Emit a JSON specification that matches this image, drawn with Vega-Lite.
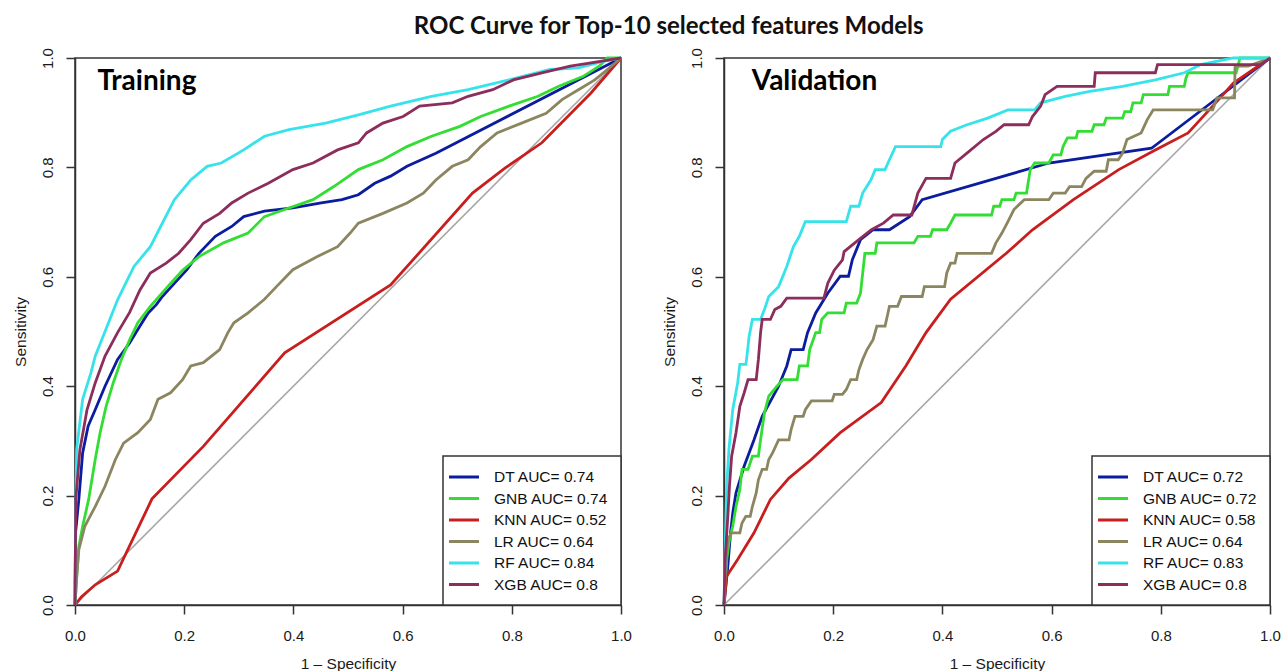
{
  "$schema": "https://vega.github.io/schema/vega-lite/v6.json",
  "padding": {"left": 12, "top": 14, "right": 0, "bottom": 0},
  "background": "white",
  "title": {"text": "ROC Curve for Top-10 selected features Models", "font": "Lato", "fontSize": 24, "fontWeight": "bold", "color": "#111111", "anchor": "middle", "offset": 8, "dx": 22},
  "config": {
    "view": {"stroke": "#333333", "strokeWidth": 1.5},
    "axis": {"domainColor": "#333333", "tickColor": "#333333", "domainWidth": 1.5, "tickWidth": 1.5, "tickSize": 9, "labelColor": "#1a1a1a", "titleColor": "#1a1a1a", "labelFont": "Liberation Sans", "titleFont": "Liberation Sans", "labelFontSize": 15, "titleFontSize": 15.5, "titleFontWeight": "normal", "grid": false, "labelFlush": false, "labelOverlap": false},
    "legend": {"strokeWidth": 1.5}
  },
  "datasets": {
    "train": [
      {"m":"DT","x":0,"y":0},{"m":"DT","x":0.001,"y":0.132},{"m":"DT","x":0.007,"y":0.193},{"m":"DT","x":0.014,"y":0.278},{"m":"DT","x":0.024,"y":0.327},{"m":"DT","x":0.037,"y":0.357},{"m":"DT","x":0.055,"y":0.4},{"m":"DT","x":0.078,"y":0.449},{"m":"DT","x":0.1,"y":0.479},{"m":"DT","x":0.119,"y":0.51},{"m":"DT","x":0.134,"y":0.534},{"m":"DT","x":0.149,"y":0.549},{"m":"DT","x":0.16,"y":0.564},{"m":"DT","x":0.182,"y":0.588},{"m":"DT","x":0.205,"y":0.613},{"m":"DT","x":0.227,"y":0.643},{"m":"DT","x":0.257,"y":0.674},{"m":"DT","x":0.287,"y":0.692},{"m":"DT","x":0.309,"y":0.71},{"m":"DT","x":0.347,"y":0.72},{"m":"DT","x":0.399,"y":0.726},{"m":"DT","x":0.451,"y":0.735},{"m":"DT","x":0.489,"y":0.741},{"m":"DT","x":0.519,"y":0.75},{"m":"DT","x":0.549,"y":0.771},{"m":"DT","x":0.578,"y":0.784},{"m":"DT","x":0.608,"y":0.802},{"m":"DT","x":0.661,"y":0.826},{"m":"DT","x":1,"y":1},
      {"m":"GNB","x":0,"y":0},{"m":"GNB","x":0.003,"y":0.05},{"m":"GNB","x":0.007,"y":0.107},{"m":"GNB","x":0.014,"y":0.144},{"m":"GNB","x":0.025,"y":0.193},{"m":"GNB","x":0.037,"y":0.266},{"m":"GNB","x":0.046,"y":0.315},{"m":"GNB","x":0.057,"y":0.363},{"m":"GNB","x":0.07,"y":0.406},{"m":"GNB","x":0.085,"y":0.449},{"m":"GNB","x":0.1,"y":0.485},{"m":"GNB","x":0.115,"y":0.516},{"m":"GNB","x":0.138,"y":0.546},{"m":"GNB","x":0.175,"y":0.588},{"m":"GNB","x":0.197,"y":0.612},{"m":"GNB","x":0.227,"y":0.637},{"m":"GNB","x":0.272,"y":0.662},{"m":"GNB","x":0.317,"y":0.68},{"m":"GNB","x":0.347,"y":0.71},{"m":"GNB","x":0.384,"y":0.723},{"m":"GNB","x":0.436,"y":0.741},{"m":"GNB","x":0.474,"y":0.765},{"m":"GNB","x":0.519,"y":0.796},{"m":"GNB","x":0.564,"y":0.814},{"m":"GNB","x":0.608,"y":0.838},{"m":"GNB","x":0.653,"y":0.857},{"m":"GNB","x":0.705,"y":0.875},{"m":"GNB","x":0.743,"y":0.893},{"m":"GNB","x":0.795,"y":0.912},{"m":"GNB","x":0.848,"y":0.93},{"m":"GNB","x":0.885,"y":0.948},{"m":"GNB","x":0.93,"y":0.966},{"m":"GNB","x":0.96,"y":0.985},{"m":"GNB","x":0.975,"y":1},{"m":"GNB","x":1,"y":1},
      {"m":"KNN","x":0,"y":0},{"m":"KNN","x":0.012,"y":0.015},{"m":"KNN","x":0.037,"y":0.037},{"m":"KNN","x":0.078,"y":0.062},{"m":"KNN","x":0.141,"y":0.194},{"m":"KNN","x":0.235,"y":0.29},{"m":"KNN","x":0.384,"y":0.461},{"m":"KNN","x":0.578,"y":0.585},{"m":"KNN","x":0.728,"y":0.753},{"m":"KNN","x":0.788,"y":0.799},{"m":"KNN","x":0.855,"y":0.845},{"m":"KNN","x":0.945,"y":0.936},{"m":"KNN","x":1,"y":1},
      {"m":"LR","x":0,"y":0},{"m":"LR","x":0.003,"y":0.05},{"m":"LR","x":0.007,"y":0.101},{"m":"LR","x":0.018,"y":0.144},{"m":"LR","x":0.037,"y":0.18},{"m":"LR","x":0.055,"y":0.217},{"m":"LR","x":0.074,"y":0.266},{"m":"LR","x":0.089,"y":0.296},{"m":"LR","x":0.115,"y":0.315},{"m":"LR","x":0.138,"y":0.339},{"m":"LR","x":0.152,"y":0.376},{"m":"LR","x":0.175,"y":0.388},{"m":"LR","x":0.197,"y":0.412},{"m":"LR","x":0.212,"y":0.437},{"m":"LR","x":0.235,"y":0.443},{"m":"LR","x":0.265,"y":0.467},{"m":"LR","x":0.28,"y":0.498},{"m":"LR","x":0.291,"y":0.516},{"m":"LR","x":0.317,"y":0.534},{"m":"LR","x":0.347,"y":0.559},{"m":"LR","x":0.369,"y":0.582},{"m":"LR","x":0.399,"y":0.613},{"m":"LR","x":0.444,"y":0.637},{"m":"LR","x":0.481,"y":0.655},{"m":"LR","x":0.504,"y":0.68},{"m":"LR","x":0.519,"y":0.698},{"m":"LR","x":0.564,"y":0.716},{"m":"LR","x":0.608,"y":0.735},{"m":"LR","x":0.638,"y":0.753},{"m":"LR","x":0.661,"y":0.777},{"m":"LR","x":0.691,"y":0.802},{"m":"LR","x":0.72,"y":0.814},{"m":"LR","x":0.743,"y":0.838},{"m":"LR","x":0.773,"y":0.863},{"m":"LR","x":0.818,"y":0.881},{"m":"LR","x":0.863,"y":0.899},{"m":"LR","x":0.892,"y":0.924},{"m":"LR","x":0.922,"y":0.942},{"m":"LR","x":0.952,"y":0.96},{"m":"LR","x":0.975,"y":0.979},{"m":"LR","x":1,"y":1},
      {"m":"RF","x":0,"y":0},{"m":"RF","x":0.001,"y":0.15},{"m":"RF","x":0.003,"y":0.284},{"m":"RF","x":0.014,"y":0.376},{"m":"RF","x":0.029,"y":0.424},{"m":"RF","x":0.037,"y":0.455},{"m":"RF","x":0.055,"y":0.5},{"m":"RF","x":0.078,"y":0.558},{"m":"RF","x":0.108,"y":0.619},{"m":"RF","x":0.138,"y":0.655},{"m":"RF","x":0.16,"y":0.698},{"m":"RF","x":0.182,"y":0.741},{"m":"RF","x":0.212,"y":0.777},{"m":"RF","x":0.242,"y":0.802},{"m":"RF","x":0.268,"y":0.808},{"m":"RF","x":0.309,"y":0.832},{"m":"RF","x":0.347,"y":0.857},{"m":"RF","x":0.392,"y":0.869},{"m":"RF","x":0.459,"y":0.881},{"m":"RF","x":0.519,"y":0.896},{"m":"RF","x":0.578,"y":0.912},{"m":"RF","x":0.653,"y":0.93},{"m":"RF","x":0.72,"y":0.942},{"m":"RF","x":0.795,"y":0.96},{"m":"RF","x":0.87,"y":0.979},{"m":"RF","x":0.922,"y":0.982},{"m":"RF","x":0.967,"y":0.994},{"m":"RF","x":1,"y":1},
      {"m":"XGB","x":0,"y":0},{"m":"XGB","x":0.0015,"y":0.194},{"m":"XGB","x":0.009,"y":0.284},{"m":"XGB","x":0.022,"y":0.357},{"m":"XGB","x":0.037,"y":0.406},{"m":"XGB","x":0.055,"y":0.455},{"m":"XGB","x":0.078,"y":0.498},{"m":"XGB","x":0.1,"y":0.535},{"m":"XGB","x":0.119,"y":0.576},{"m":"XGB","x":0.138,"y":0.607},{"m":"XGB","x":0.167,"y":0.625},{"m":"XGB","x":0.19,"y":0.643},{"m":"XGB","x":0.212,"y":0.668},{"m":"XGB","x":0.235,"y":0.698},{"m":"XGB","x":0.265,"y":0.716},{"m":"XGB","x":0.287,"y":0.735},{"m":"XGB","x":0.317,"y":0.753},{"m":"XGB","x":0.354,"y":0.771},{"m":"XGB","x":0.399,"y":0.796},{"m":"XGB","x":0.436,"y":0.808},{"m":"XGB","x":0.481,"y":0.832},{"m":"XGB","x":0.519,"y":0.845},{"m":"XGB","x":0.534,"y":0.863},{"m":"XGB","x":0.564,"y":0.881},{"m":"XGB","x":0.601,"y":0.893},{"m":"XGB","x":0.631,"y":0.912},{"m":"XGB","x":0.691,"y":0.918},{"m":"XGB","x":0.72,"y":0.93},{"m":"XGB","x":0.765,"y":0.942},{"m":"XGB","x":0.803,"y":0.96},{"m":"XGB","x":0.855,"y":0.973},{"m":"XGB","x":0.907,"y":0.985},{"m":"XGB","x":0.945,"y":0.991},{"m":"XGB","x":1,"y":1}
    ],
    "valid": [
      {"m":"DT","x":0,"y":0},{"m":"DT","x":0.007,"y":0.071},{"m":"DT","x":0.012,"y":0.132},{"m":"DT","x":0.016,"y":0.168},{"m":"DT","x":0.022,"y":0.205},{"m":"DT","x":0.037,"y":0.254},{"m":"DT","x":0.055,"y":0.302},{"m":"DT","x":0.07,"y":0.345},{"m":"DT","x":0.1,"y":0.4},{"m":"DT","x":0.115,"y":0.437},{"m":"DT","x":0.123,"y":0.467},{"m":"DT","x":0.145,"y":0.467},{"m":"DT","x":0.153,"y":0.498},{"m":"DT","x":0.168,"y":0.534},{"m":"DT","x":0.19,"y":0.57},{"m":"DT","x":0.213,"y":0.601},{"m":"DT","x":0.228,"y":0.601},{"m":"DT","x":0.235,"y":0.631},{"m":"DT","x":0.25,"y":0.668},{"m":"DT","x":0.273,"y":0.686},{"m":"DT","x":0.303,"y":0.686},{"m":"DT","x":0.34,"y":0.71},{"m":"DT","x":0.363,"y":0.741},{"m":"DT","x":0.595,"y":0.808},{"m":"DT","x":0.783,"y":0.835},{"m":"DT","x":1,"y":1},
      {"m":"GNB","x":0,"y":0},{"m":"GNB","x":0.003,"y":0.046},{"m":"GNB","x":0.005,"y":0.083},{"m":"GNB","x":0.01,"y":0.12},{"m":"GNB","x":0.016,"y":0.144},{"m":"GNB","x":0.022,"y":0.18},{"m":"GNB","x":0.029,"y":0.211},{"m":"GNB","x":0.033,"y":0.248},{"m":"GNB","x":0.044,"y":0.248},{"m":"GNB","x":0.052,"y":0.272},{"m":"GNB","x":0.063,"y":0.272},{"m":"GNB","x":0.067,"y":0.302},{"m":"GNB","x":0.074,"y":0.351},{"m":"GNB","x":0.082,"y":0.382},{"m":"GNB","x":0.097,"y":0.4},{"m":"GNB","x":0.108,"y":0.412},{"m":"GNB","x":0.134,"y":0.412},{"m":"GNB","x":0.138,"y":0.437},{"m":"GNB","x":0.153,"y":0.437},{"m":"GNB","x":0.157,"y":0.467},{"m":"GNB","x":0.168,"y":0.498},{"m":"GNB","x":0.175,"y":0.498},{"m":"GNB","x":0.179,"y":0.522},{"m":"GNB","x":0.19,"y":0.534},{"m":"GNB","x":0.22,"y":0.534},{"m":"GNB","x":0.224,"y":0.552},{"m":"GNB","x":0.243,"y":0.552},{"m":"GNB","x":0.25,"y":0.57},{"m":"GNB","x":0.258,"y":0.643},{"m":"GNB","x":0.277,"y":0.643},{"m":"GNB","x":0.28,"y":0.662},{"m":"GNB","x":0.348,"y":0.662},{"m":"GNB","x":0.355,"y":0.674},{"m":"GNB","x":0.378,"y":0.674},{"m":"GNB","x":0.382,"y":0.686},{"m":"GNB","x":0.408,"y":0.686},{"m":"GNB","x":0.415,"y":0.698},{"m":"GNB","x":0.423,"y":0.713},{"m":"GNB","x":0.49,"y":0.713},{"m":"GNB","x":0.494,"y":0.729},{"m":"GNB","x":0.505,"y":0.729},{"m":"GNB","x":0.509,"y":0.741},{"m":"GNB","x":0.531,"y":0.741},{"m":"GNB","x":0.535,"y":0.753},{"m":"GNB","x":0.554,"y":0.753},{"m":"GNB","x":0.561,"y":0.796},{"m":"GNB","x":0.569,"y":0.808},{"m":"GNB","x":0.595,"y":0.808},{"m":"GNB","x":0.603,"y":0.823},{"m":"GNB","x":0.617,"y":0.823},{"m":"GNB","x":0.621,"y":0.838},{"m":"GNB","x":0.629,"y":0.854},{"m":"GNB","x":0.645,"y":0.854},{"m":"GNB","x":0.648,"y":0.866},{"m":"GNB","x":0.674,"y":0.866},{"m":"GNB","x":0.678,"y":0.878},{"m":"GNB","x":0.696,"y":0.878},{"m":"GNB","x":0.7,"y":0.89},{"m":"GNB","x":0.73,"y":0.89},{"m":"GNB","x":0.734,"y":0.902},{"m":"GNB","x":0.745,"y":0.902},{"m":"GNB","x":0.749,"y":0.918},{"m":"GNB","x":0.764,"y":0.918},{"m":"GNB","x":0.768,"y":0.933},{"m":"GNB","x":0.813,"y":0.933},{"m":"GNB","x":0.816,"y":0.948},{"m":"GNB","x":0.843,"y":0.948},{"m":"GNB","x":0.846,"y":0.963},{"m":"GNB","x":0.85,"y":0.973},{"m":"GNB","x":0.938,"y":0.973},{"m":"GNB","x":0.945,"y":1},{"m":"GNB","x":1,"y":1},
      {"m":"KNN","x":0,"y":0},{"m":"KNN","x":0.0045,"y":0.052},{"m":"KNN","x":0.025,"y":0.083},{"m":"KNN","x":0.055,"y":0.132},{"m":"KNN","x":0.085,"y":0.193},{"m":"KNN","x":0.119,"y":0.232},{"m":"KNN","x":0.16,"y":0.266},{"m":"KNN","x":0.213,"y":0.315},{"m":"KNN","x":0.288,"y":0.37},{"m":"KNN","x":0.333,"y":0.437},{"m":"KNN","x":0.37,"y":0.498},{"m":"KNN","x":0.415,"y":0.559},{"m":"KNN","x":0.517,"y":0.643},{"m":"KNN","x":0.565,"y":0.686},{"m":"KNN","x":0.64,"y":0.741},{"m":"KNN","x":0.723,"y":0.796},{"m":"KNN","x":0.79,"y":0.832},{"m":"KNN","x":0.85,"y":0.863},{"m":"KNN","x":0.895,"y":0.912},{"m":"KNN","x":0.933,"y":0.954},{"m":"KNN","x":1,"y":1},
      {"m":"LR","x":0,"y":0},{"m":"LR","x":0.003,"y":0.071},{"m":"LR","x":0.007,"y":0.12},{"m":"LR","x":0.014,"y":0.132},{"m":"LR","x":0.029,"y":0.132},{"m":"LR","x":0.033,"y":0.15},{"m":"LR","x":0.04,"y":0.162},{"m":"LR","x":0.048,"y":0.162},{"m":"LR","x":0.052,"y":0.18},{"m":"LR","x":0.059,"y":0.205},{"m":"LR","x":0.063,"y":0.229},{"m":"LR","x":0.07,"y":0.248},{"m":"LR","x":0.078,"y":0.248},{"m":"LR","x":0.082,"y":0.266},{"m":"LR","x":0.089,"y":0.278},{"m":"LR","x":0.1,"y":0.302},{"m":"LR","x":0.119,"y":0.302},{"m":"LR","x":0.123,"y":0.321},{"m":"LR","x":0.13,"y":0.345},{"m":"LR","x":0.145,"y":0.345},{"m":"LR","x":0.149,"y":0.357},{"m":"LR","x":0.16,"y":0.373},{"m":"LR","x":0.198,"y":0.373},{"m":"LR","x":0.202,"y":0.385},{"m":"LR","x":0.217,"y":0.385},{"m":"LR","x":0.224,"y":0.394},{"m":"LR","x":0.232,"y":0.412},{"m":"LR","x":0.243,"y":0.412},{"m":"LR","x":0.247,"y":0.43},{"m":"LR","x":0.254,"y":0.449},{"m":"LR","x":0.262,"y":0.467},{"m":"LR","x":0.273,"y":0.485},{"m":"LR","x":0.28,"y":0.51},{"m":"LR","x":0.295,"y":0.51},{"m":"LR","x":0.299,"y":0.528},{"m":"LR","x":0.303,"y":0.546},{"m":"LR","x":0.318,"y":0.546},{"m":"LR","x":0.325,"y":0.564},{"m":"LR","x":0.363,"y":0.564},{"m":"LR","x":0.367,"y":0.582},{"m":"LR","x":0.404,"y":0.582},{"m":"LR","x":0.408,"y":0.607},{"m":"LR","x":0.415,"y":0.625},{"m":"LR","x":0.423,"y":0.625},{"m":"LR","x":0.427,"y":0.643},{"m":"LR","x":0.49,"y":0.643},{"m":"LR","x":0.498,"y":0.662},{"m":"LR","x":0.509,"y":0.68},{"m":"LR","x":0.52,"y":0.701},{"m":"LR","x":0.531,"y":0.723},{"m":"LR","x":0.55,"y":0.741},{"m":"LR","x":0.595,"y":0.741},{"m":"LR","x":0.603,"y":0.753},{"m":"LR","x":0.625,"y":0.753},{"m":"LR","x":0.633,"y":0.765},{"m":"LR","x":0.655,"y":0.765},{"m":"LR","x":0.663,"y":0.78},{"m":"LR","x":0.678,"y":0.793},{"m":"LR","x":0.7,"y":0.793},{"m":"LR","x":0.704,"y":0.814},{"m":"LR","x":0.722,"y":0.814},{"m":"LR","x":0.73,"y":0.826},{"m":"LR","x":0.738,"y":0.851},{"m":"LR","x":0.764,"y":0.863},{"m":"LR","x":0.775,"y":0.887},{"m":"LR","x":0.786,"y":0.905},{"m":"LR","x":0.895,"y":0.905},{"m":"LR","x":0.903,"y":0.927},{"m":"LR","x":0.935,"y":0.927},{"m":"LR","x":0.936,"y":0.985},{"m":"LR","x":0.96,"y":0.985},{"m":"LR","x":1,"y":1},
      {"m":"RF","x":0,"y":0},{"m":"RF","x":0.002,"y":0.089},{"m":"RF","x":0.003,"y":0.138},{"m":"RF","x":0.005,"y":0.217},{"m":"RF","x":0.009,"y":0.284},{"m":"RF","x":0.016,"y":0.357},{"m":"RF","x":0.025,"y":0.406},{"m":"RF","x":0.029,"y":0.44},{"m":"RF","x":0.04,"y":0.44},{"m":"RF","x":0.042,"y":0.455},{"m":"RF","x":0.046,"y":0.491},{"m":"RF","x":0.052,"y":0.522},{"m":"RF","x":0.067,"y":0.522},{"m":"RF","x":0.074,"y":0.54},{"m":"RF","x":0.082,"y":0.564},{"m":"RF","x":0.1,"y":0.582},{"m":"RF","x":0.115,"y":0.619},{"m":"RF","x":0.127,"y":0.655},{"m":"RF","x":0.138,"y":0.674},{"m":"RF","x":0.149,"y":0.701},{"m":"RF","x":0.224,"y":0.701},{"m":"RF","x":0.232,"y":0.729},{"m":"RF","x":0.247,"y":0.729},{"m":"RF","x":0.254,"y":0.753},{"m":"RF","x":0.269,"y":0.777},{"m":"RF","x":0.277,"y":0.796},{"m":"RF","x":0.295,"y":0.796},{"m":"RF","x":0.303,"y":0.814},{"m":"RF","x":0.314,"y":0.838},{"m":"RF","x":0.397,"y":0.838},{"m":"RF","x":0.4,"y":0.851},{"m":"RF","x":0.415,"y":0.866},{"m":"RF","x":0.445,"y":0.878},{"m":"RF","x":0.483,"y":0.89},{"m":"RF","x":0.52,"y":0.905},{"m":"RF","x":0.569,"y":0.905},{"m":"RF","x":0.58,"y":0.918},{"m":"RF","x":0.625,"y":0.93},{"m":"RF","x":0.67,"y":0.939},{"m":"RF","x":0.73,"y":0.948},{"m":"RF","x":0.79,"y":0.96},{"m":"RF","x":0.843,"y":0.973},{"m":"RF","x":0.873,"y":0.988},{"m":"RF","x":0.933,"y":1},{"m":"RF","x":1,"y":1},
      {"m":"XGB","x":0,"y":0},{"m":"XGB","x":0.002,"y":0.083},{"m":"XGB","x":0.007,"y":0.162},{"m":"XGB","x":0.01,"y":0.217},{"m":"XGB","x":0.014,"y":0.272},{"m":"XGB","x":0.022,"y":0.315},{"m":"XGB","x":0.029,"y":0.363},{"m":"XGB","x":0.037,"y":0.388},{"m":"XGB","x":0.044,"y":0.412},{"m":"XGB","x":0.059,"y":0.412},{"m":"XGB","x":0.063,"y":0.449},{"m":"XGB","x":0.067,"y":0.498},{"m":"XGB","x":0.07,"y":0.522},{"m":"XGB","x":0.085,"y":0.522},{"m":"XGB","x":0.093,"y":0.54},{"m":"XGB","x":0.104,"y":0.546},{"m":"XGB","x":0.115,"y":0.561},{"m":"XGB","x":0.183,"y":0.561},{"m":"XGB","x":0.19,"y":0.588},{"m":"XGB","x":0.202,"y":0.612},{"m":"XGB","x":0.217,"y":0.631},{"m":"XGB","x":0.22,"y":0.646},{"m":"XGB","x":0.247,"y":0.668},{"m":"XGB","x":0.27,"y":0.686},{"m":"XGB","x":0.292,"y":0.698},{"m":"XGB","x":0.31,"y":0.713},{"m":"XGB","x":0.344,"y":0.713},{"m":"XGB","x":0.355,"y":0.753},{"m":"XGB","x":0.37,"y":0.78},{"m":"XGB","x":0.415,"y":0.78},{"m":"XGB","x":0.423,"y":0.808},{"m":"XGB","x":0.445,"y":0.826},{"m":"XGB","x":0.475,"y":0.851},{"m":"XGB","x":0.498,"y":0.866},{"m":"XGB","x":0.513,"y":0.878},{"m":"XGB","x":0.558,"y":0.878},{"m":"XGB","x":0.565,"y":0.893},{"m":"XGB","x":0.58,"y":0.912},{"m":"XGB","x":0.588,"y":0.933},{"m":"XGB","x":0.61,"y":0.948},{"m":"XGB","x":0.678,"y":0.948},{"m":"XGB","x":0.68,"y":0.973},{"m":"XGB","x":0.79,"y":0.973},{"m":"XGB","x":0.794,"y":0.988},{"m":"XGB","x":0.983,"y":0.988},{"m":"XGB","x":1,"y":1}
    ]
  },
  "hconcat": [
    {
      "width": 546, "height": 547,
      "encoding": {
        "x": {"field": "x", "type": "quantitative", "scale": {"domain": [0, 1], "nice": false, "zero": false},
              "axis": {"values": [0, 0.2, 0.4, 0.6, 0.8, 1], "format": ".1f", "title": "1 – Specificity", "labelPadding": 14, "titleX": 273, "titleY": 63, "titleAlign": "center", "titleBaseline": "alphabetic"}},
        "y": {"field": "y", "type": "quantitative", "scale": {"domain": [0, 1], "nice": false, "zero": false},
              "axis": {"values": [0, 0.2, 0.4, 0.6, 0.8, 1], "format": ".1f", "title": "Sensitivity", "labelAngle": -90, "labelAlign": "center", "labelBaseline": "alphabetic", "labelPadding": 14, "titleX": -50, "titleY": 273.5, "titleAngle": -90, "titleAlign": "center", "titleBaseline": "alphabetic"}}
      },
      "layer": [
        {"data": {"values": [{"x": 0, "y": 0}, {"x": 1, "y": 1}]}, "mark": {"type": "line", "color": "#a6a6a6", "strokeWidth": 1.6}},
        {"data": {"name": "train"}, "mark": {"type": "line", "strokeWidth": 2.8},
         "encoding": {"color": {"field": "m", "type": "nominal",
           "scale": {"domain": ["DT", "GNB", "KNN", "LR", "RF", "XGB"], "range": ["#0b1c9e", "#33dd33", "#c81e1e", "#8b8660", "#36e3ea", "#8c2d5c"]},
           "legend": {"title": null, "orient": "bottom-right", "offset": 0, "strokeColor": "#333333", "fillColor": "white", "padding": 12, "symbolType": "M-2,0H2", "symbolSize": 225, "symbolStrokeWidth": 3, "labelFont": "Liberation Sans", "labelFontSize": 15.5, "labelColor": "#111111", "labelOffset": 21, "rowPadding": 3.5,
             "labelExpr": "datum.label == 'DT' ? 'DT AUC= 0.74' : datum.label == 'GNB' ? 'GNB AUC= 0.74' : datum.label == 'KNN' ? 'KNN AUC= 0.52' : datum.label == 'LR' ? 'LR AUC= 0.64' : datum.label == 'RF' ? 'RF AUC= 0.84' : 'XGB AUC= 0.8'"}}}},
        {"data": {"values": [{"x": 0.041, "y": 0.941, "t": "Training"}]}, "mark": {"type": "text", "font": "Lato", "fontWeight": "bold", "fontSize": 28, "align": "left", "baseline": "alphabetic", "color": "#000000"},
         "encoding": {"text": {"field": "t"}}}
      ]
    },
    {
      "width": 546, "height": 547,
      "encoding": {
        "x": {"field": "x", "type": "quantitative", "scale": {"domain": [0, 1], "nice": false, "zero": false},
              "axis": {"values": [0, 0.2, 0.4, 0.6, 0.8, 1], "format": ".1f", "title": "1 – Specificity", "labelPadding": 14, "titleX": 273, "titleY": 63, "titleAlign": "center", "titleBaseline": "alphabetic"}},
        "y": {"field": "y", "type": "quantitative", "scale": {"domain": [0, 1], "nice": false, "zero": false},
              "axis": {"values": [0, 0.2, 0.4, 0.6, 0.8, 1], "format": ".1f", "title": "Sensitivity", "labelAngle": -90, "labelAlign": "center", "labelBaseline": "alphabetic", "labelPadding": 14, "titleX": -50, "titleY": 273.5, "titleAngle": -90, "titleAlign": "center", "titleBaseline": "alphabetic"}}
      },
      "layer": [
        {"data": {"values": [{"x": 0, "y": 0}, {"x": 1, "y": 1}]}, "mark": {"type": "line", "color": "#a6a6a6", "strokeWidth": 1.6}},
        {"data": {"name": "valid"}, "mark": {"type": "line", "strokeWidth": 2.8},
         "encoding": {"color": {"field": "m", "type": "nominal",
           "scale": {"domain": ["DT", "GNB", "KNN", "LR", "RF", "XGB"], "range": ["#0b1c9e", "#33dd33", "#c81e1e", "#8b8660", "#36e3ea", "#8c2d5c"]},
           "legend": {"title": null, "orient": "bottom-right", "offset": 0, "strokeColor": "#333333", "fillColor": "white", "padding": 12, "symbolType": "M-2,0H2", "symbolSize": 225, "symbolStrokeWidth": 3, "labelFont": "Liberation Sans", "labelFontSize": 15.5, "labelColor": "#111111", "labelOffset": 21, "rowPadding": 3.5,
             "labelExpr": "datum.label == 'DT' ? 'DT AUC= 0.72' : datum.label == 'GNB' ? 'GNB AUC= 0.72' : datum.label == 'KNN' ? 'KNN AUC= 0.58' : datum.label == 'LR' ? 'LR AUC= 0.64' : datum.label == 'RF' ? 'RF AUC= 0.83' : 'XGB AUC= 0.8'"}}}},
        {"data": {"values": [{"x": 0.051, "y": 0.941, "t": "Validation"}]}, "mark": {"type": "text", "font": "Lato", "fontWeight": "bold", "fontSize": 28, "align": "left", "baseline": "alphabetic", "color": "#000000"},
         "encoding": {"text": {"field": "t"}}}
      ]
    }
  ],
  "spacing": 103,
  "bounds": "flush",
  "resolve": {"scale": {"color": "independent"}, "legend": {"color": "independent"}}
}
